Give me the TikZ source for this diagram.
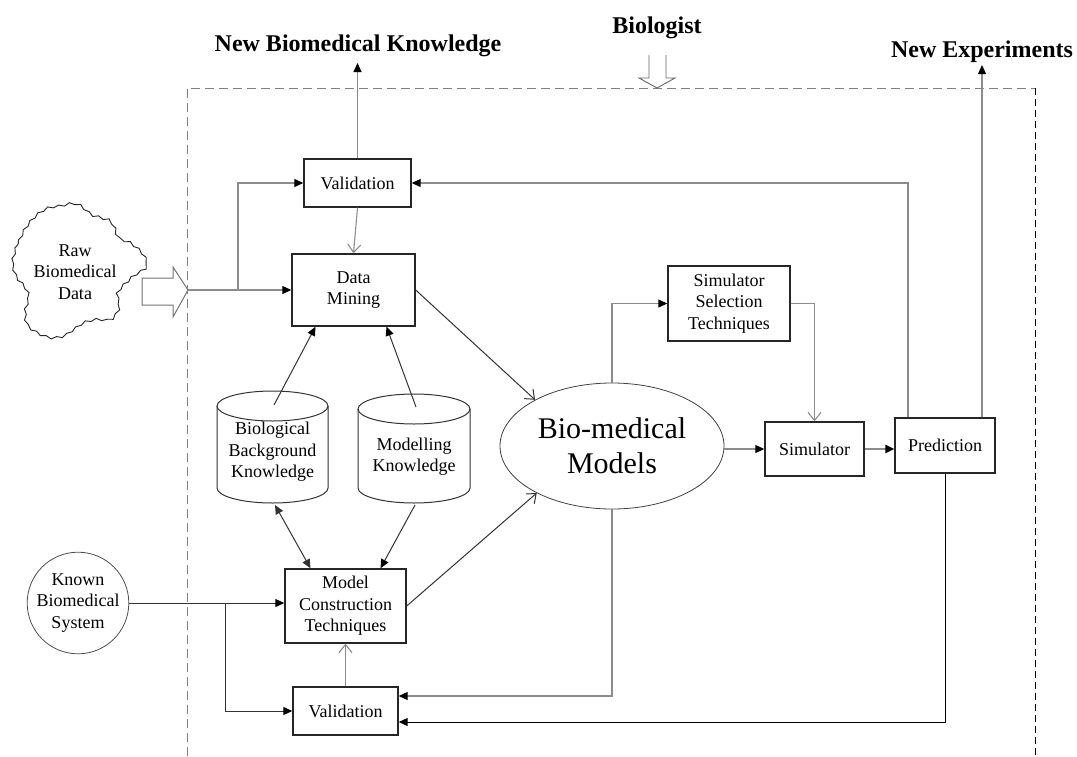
\documentclass[tikz,border=0pt]{standalone}
\usepackage{fontspec}
\setmainfont{Liberation Serif}
\usetikzlibrary{arrows.meta,shapes.geometric,decorations.pathmorphing}
\begin{document}
\begin{tikzpicture}[x=1pt,y=-1pt,
  box/.style={draw=black!85,line width=1.4pt,align=center,inner sep=0pt,font=\fontsize{18}{21.5}\selectfont},
  lbl/.style={font=\fontsize{18}{21.5}\selectfont,align=center,inner sep=0pt},
  title/.style={font=\bfseries\fontsize{24}{28}\selectfont,anchor=base,inner sep=0pt},
  gl/.style={draw=black!45,line width=1.1pt},
  dl/.style={draw=black!80,line width=1pt},
  cyl/.style={draw=black!80,line width=1pt},
  fa/.style={-{Triangle[length=9pt,width=8pt,color=black]}},
  oa/.style={-{Straight Barb[length=8pt,width=13pt]}},
]
\useasboundingbox (0,0) rectangle (1077,756);

% frame
\draw[black!50,line width=1pt,dash pattern=on 9pt off 5pt] (187,756) -- (187,88) -- (1035,88);
\draw[black,line width=1pt,dash pattern=on 7pt off 4pt] (1035,88) -- (1035,756);

% titles
\node[title] (nbk) at (358,51) {New Biomedical Knowledge};
\node[title] (bio) at (657,33) {Biologist};
\node[title] (nexp) at (982,57) {New Experiments};
\coordinate (nbkTip) at (357.5,63);
\coordinate (neTip) at (982,65);

% biologist hollow arrow
\draw[black!60,line width=0.9pt] (649,55) -- (649,78) -- (639,78) -- (657,88) -- (675,78) -- (666,78) -- (666,55);

% raw data cloud
\draw[black!85,line width=0.9pt,decorate,decoration={snake,amplitude=1.1pt,segment length=11pt}]
  plot[smooth cycle,tension=0.6] coordinates {(12.7,261.7) (18.3,243.3) (25,230) (35,218.3) (46.7,210.7) (60,208.3) (71.7,206) (80,208.3) (90,216.7) (100,220) (110,223.3) (115,231.7) (118.3,240) (130,245) (141.7,255) (146.7,266.7) (140,273.3) (133.3,277.3) (126.7,283.3) (120,290) (116.7,296.7) (118.3,310) (110,321.7) (96.7,321.7) (83.3,325) (73.3,331.7) (63.3,338.3) (50,340) (36.7,335) (26.7,326.7) (25,313.3) (28.3,300) (25,290) (16.7,280) (13.3,271.7)};
\node[lbl] (raw) at (75,272) {Raw\\Biomedical\\Data};
\draw[black!55,line width=1pt,fill=white] (142,278) -- (173,278) -- (173,267) -- (188,290) -- (173,317) -- (173,305) -- (142,305) -- cycle;
\coordinate (rawTip) at (188,290);

% boxes
\node[box,minimum width=107pt,minimum height=48pt] (val1) at (357.5,183) {Validation};
\node[box,minimum width=123pt,minimum height=72pt] (dm) at (353.5,290) {Data\\Mining};
\node[box,minimum width=122pt,minimum height=75pt] (sst) at (729,303.5) {Simulator\\Selection\\Techniques};
\node[box,minimum width=99pt,minimum height=54pt] (sim) at (814.5,449) {Simulator};
\node[box,minimum width=100pt,minimum height=55pt] (pred) at (945,445.5) {Prediction};
\node[box,minimum width=121pt,minimum height=74pt] (mct) at (345.5,606) {Model\\Construction\\Techniques};
\node[box,minimum width=105pt,minimum height=48pt] (val2) at (345.5,711) {Validation};

% ellipse and circle
\node[ellipse,draw=black!75,line width=0.8pt,minimum width=224pt,minimum height=126pt,inner sep=0pt,align=center,font=\fontsize{30}{35}\selectfont] (bm) at (612,446) {Bio-medical\\Models};
\node[circle,draw=black!70,line width=0.8pt,minimum size=94pt,lbl] (known) at (78,603) {Known\\Biomedical\\System};

% cylinders
\draw[cyl] (217,406) -- (217,488) arc[start angle=180,end angle=0,x radius=55.5,y radius=15] -- (328,406);
\draw[cyl] (272.5,406) ellipse[x radius=55.5,y radius=15];
\node[lbl] (bbk) at (272.5,452) {Biological\\Background\\Knowledge};
\draw[cyl] (358,409) -- (358,488) arc[start angle=180,end angle=0,x radius=56,y radius=15] -- (470,409);
\draw[cyl] (414,409) ellipse[x radius=56,y radius=15];
\node[lbl] (mk) at (414,456.5) {Modelling\\Knowledge};
\coordinate (bbkTop) at (274,405);
\coordinate (mkTop) at (416,407);
\coordinate (bbkBot) at (275,505);
\coordinate (mkBot) at (415,505);

% connectors
\coordinate (b1) at (238,290);
\coordinate (b2) at (225,603);
\draw[gl,fa] (rawTip) -- (dm.west);
\draw[gl,fa] (b1) |- (val1.west);
\draw[gl,fa] (val1.north) -- (nbkTip);
\draw[gl,oa] (val1.south) -- (dm.north);
\draw[gl,fa] ([xshift=-37pt]pred.north) |- (val1.east);
\draw[gl,fa] ([xshift=37pt]pred.north) -- (neTip);
\draw[dl,fa] (bbkTop) -- ([xshift=-38pt]dm.south);
\draw[dl,fa] (mkTop) -- ([xshift=33pt]dm.south);
\draw[dl,{Triangle[length=9pt,width=8pt]}-{Triangle[length=9pt,width=8pt]}] (bbkBot) -- ([xshift=-35pt]mct.north);
\draw[dl,fa] (mkBot) -- ([xshift=35pt]mct.north);
\draw[dl,oa] (dm.east) -- (bm.149);
\draw[dl,oa] (mct.east) -- (bm.212);
\draw[gl,fa] (bm.north) |- (sst.west);
\draw[gl,oa] (sst.east) -| (sim.north);
\draw[gl,fa] (bm.east |- sim.west) -- (sim.west);
\draw[black!45,line width=2.5pt,fa] (sim.east) -- (pred.west |- sim.east);
\draw[gl,fa] (bm.south) |- ([yshift=15pt]val2.east);
\draw[dl,draw=black,fa] (pred.south) |- ([yshift=-11pt]val2.east);
\draw[dl,fa] (known.east) -- (mct.west |- known.east);
\draw[dl,fa] (b2) |- (val2.west);
\draw[gl,oa] (val2.north) -- (mct.south);
\end{tikzpicture}
\end{document}
